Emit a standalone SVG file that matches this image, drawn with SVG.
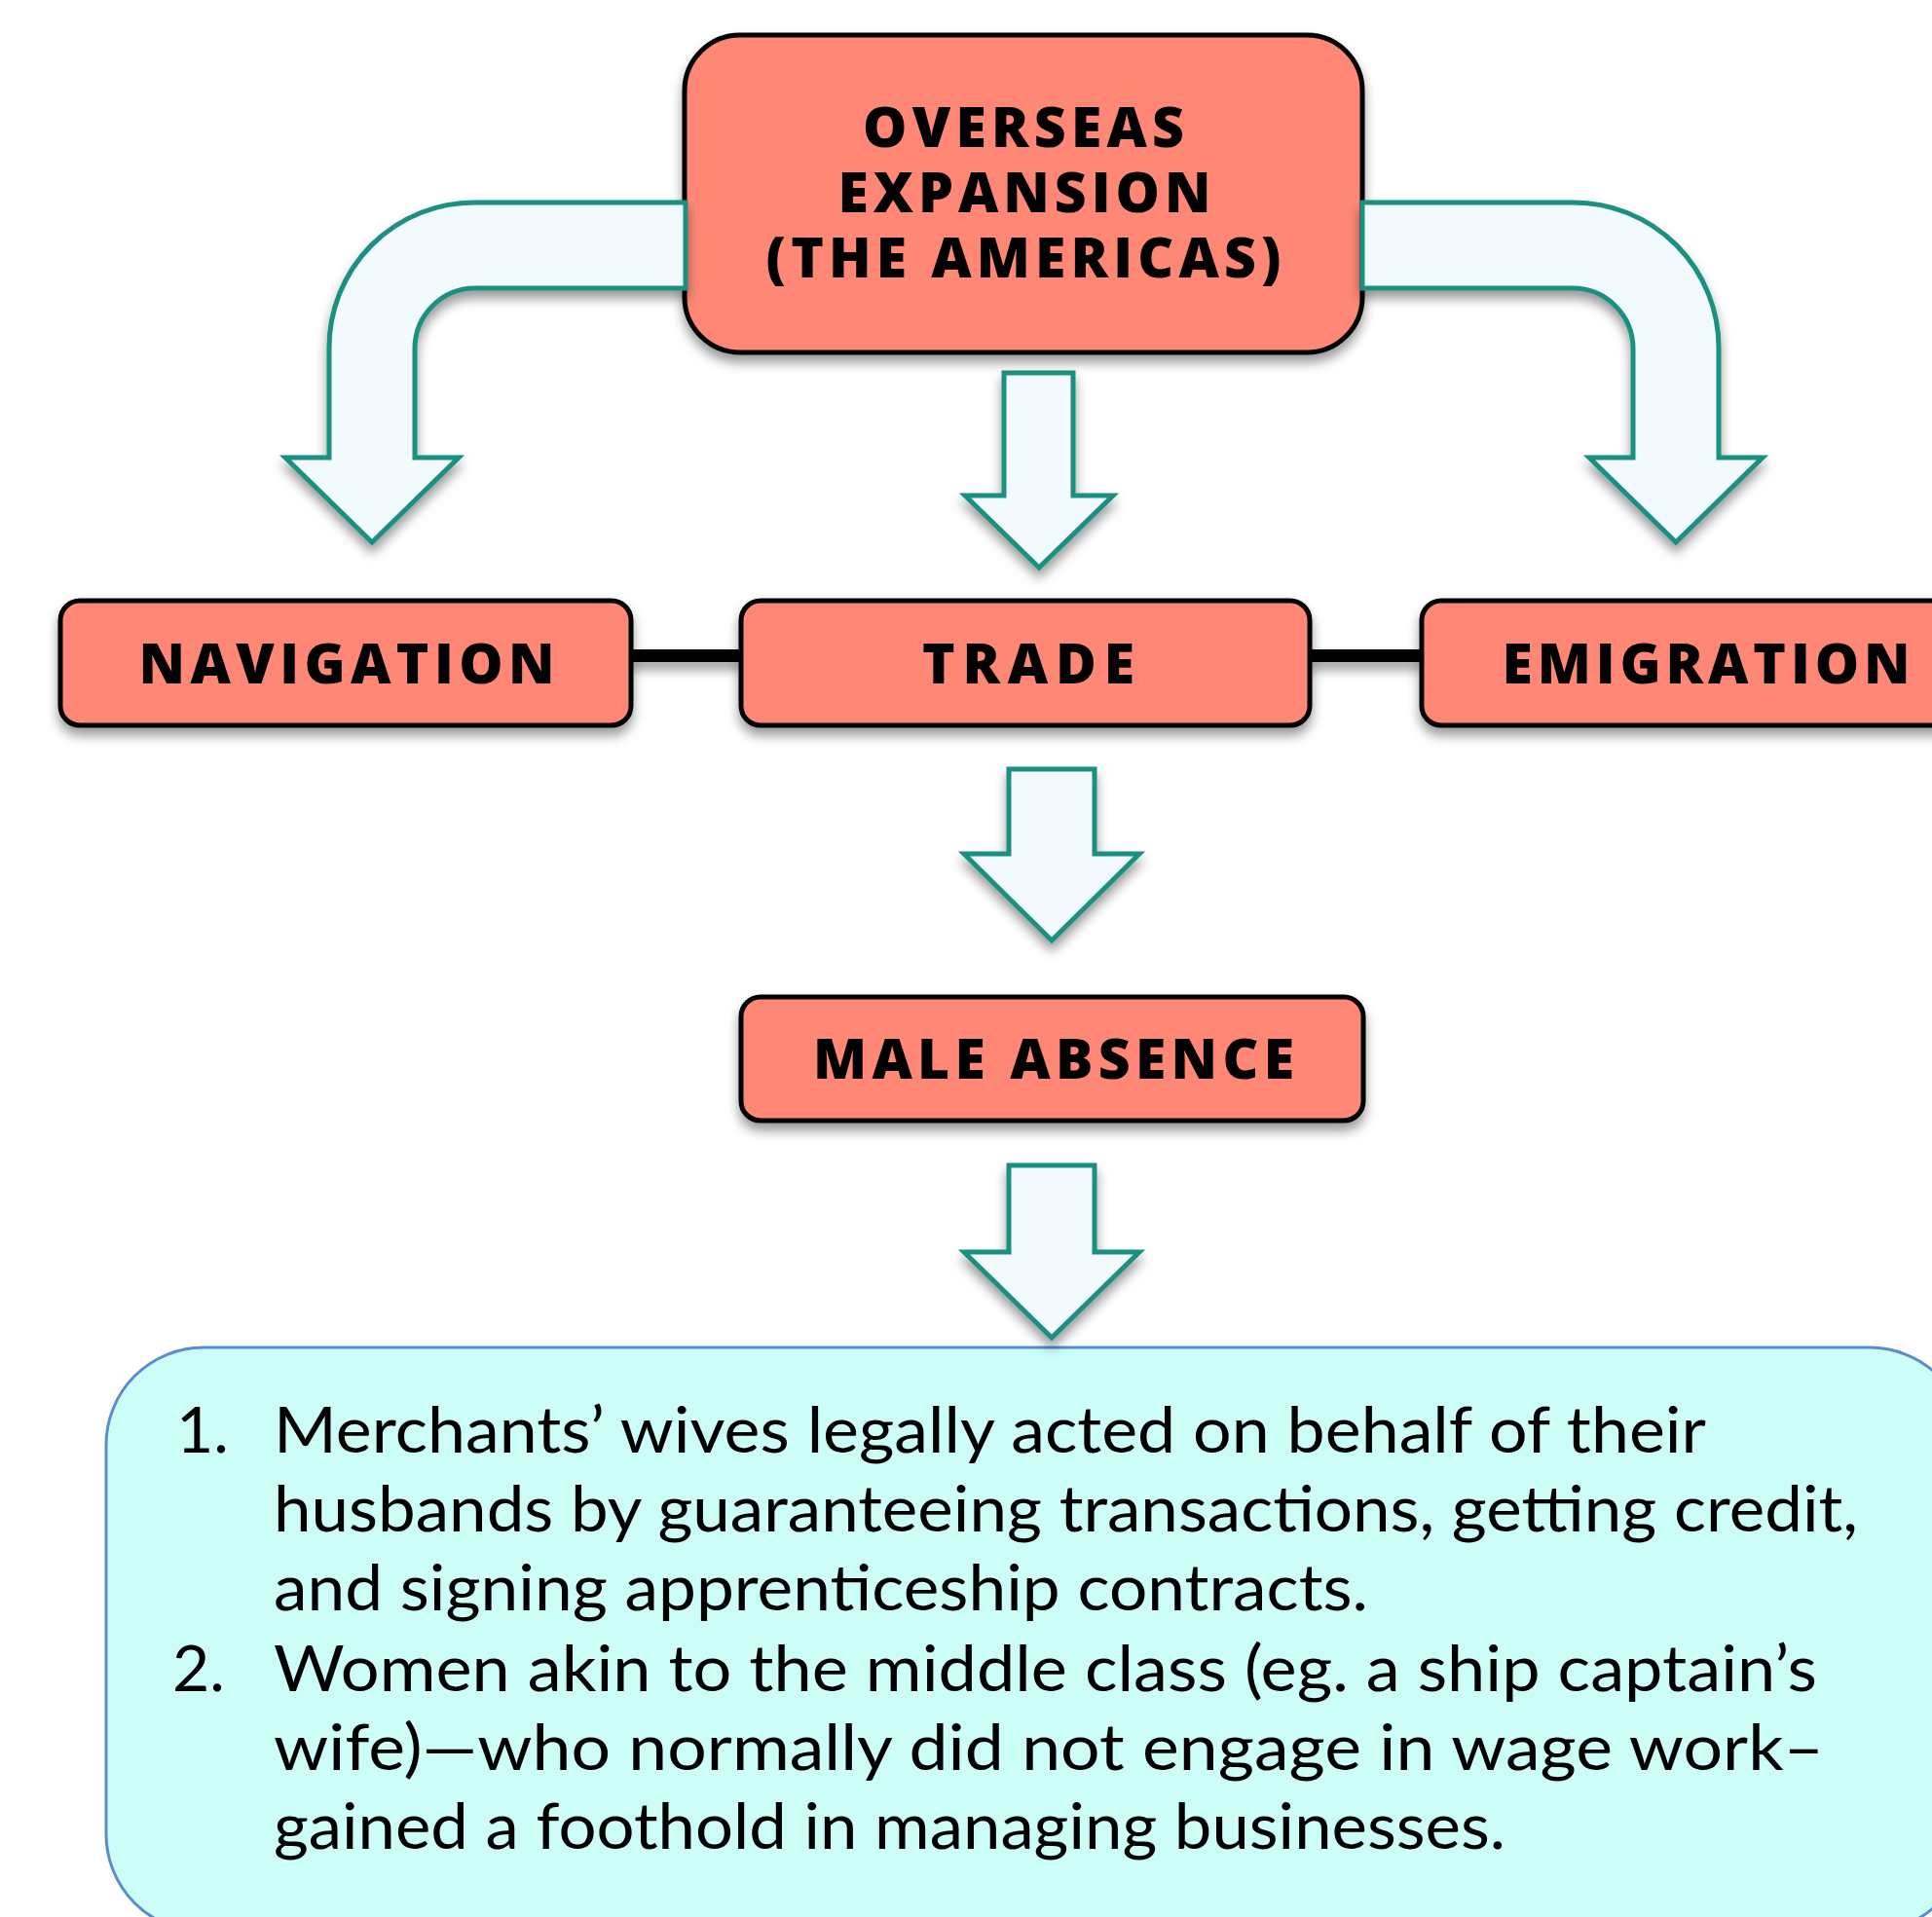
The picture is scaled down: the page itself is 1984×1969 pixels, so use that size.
<svg xmlns="http://www.w3.org/2000/svg" width="1984" height="1969" viewBox="0 0 1984 1969">
<defs>
<filter id="sh" x="-20%" y="-20%" width="140%" height="150%">
<feDropShadow dx="0" dy="8" stdDeviation="6" flood-color="#000" flood-opacity="0.4"/>
</filter>
<filter id="shl" filterUnits="userSpaceOnUse" x="0" y="600" width="1984" height="150">
<feDropShadow dx="0" dy="8" stdDeviation="6" flood-color="#000" flood-opacity="0.4"/>
</filter>
<style>
.box{fill:#fe8874;stroke:#000;stroke-width:5;filter:url(#sh)}
.arr{fill:#f2fafd;stroke:#1b9080;stroke-width:5;stroke-linejoin:miter;filter:url(#sh)}
.hd{font-family:"Open Sans",Lato,"Liberation Sans",sans-serif;font-weight:800;font-size:57px;fill:#000;text-anchor:middle}
.bt{font-family:Lato,"Open Sans","Liberation Sans",sans-serif;font-weight:400;font-size:66px;fill:#000}
.ln{fill:#000;filter:url(#shl)}
</style>
</defs>
<rect width="1984" height="1969" fill="#fff"/>

<g id="connectors">
<rect class="ln" x="646" y="667" width="117" height="13"/>
<rect class="ln" x="1343" y="667" width="119" height="13"/>
<path class="arr" d="M1031,383 H1102 V509 H1143 L1067,583 L991,509 H1031 Z"/>
<path class="arr" d="M1036,790 H1124 V877 H1170 L1080,966 L990,877 H1036 Z"/>
</g>

<g id="node-overseas">
<rect class="box" x="703" y="36" width="696" height="326" rx="57" ry="57"/>
<text class="hd" x="1051" y="151" textLength="330">OVERSEAS</text>
<text class="hd" x="1052" y="218" textLength="383">EXPANSION</text>
<text class="hd" x="1051" y="285" textLength="529">(THE AMERICAS)</text>
</g>

<g id="connectors-curved">
<path class="arr" d="M704,208 H487 A149,149 0 0 0 338,357 V470 H293 L382,557 L471,470 H426 V358 A62,62 0 0 1 488,296 H704 Z"/>
<path class="arr" d="M1399,208 H1616 A149,149 0 0 1 1765,357 V470 H1810 L1721,557 L1632,470 H1677 V358 A62,62 0 0 0 1615,296 H1399 Z"/>
</g>

<g id="node-navigation">
<rect class="box" x="62" y="617" width="586" height="128" rx="20" ry="20"/>
<text class="hd" x="356" y="702" textLength="427">NAVIGATION</text>
</g>

<g id="node-trade">
<rect class="box" x="761" y="617" width="584" height="128" rx="20" ry="20"/>
<text class="hd" x="1056" y="702" textLength="218">TRADE</text>
</g>

<g id="node-emigration">
<rect class="box" x="1460" y="617" width="600" height="128" rx="20" ry="20"/>
<text class="hd" x="1752" y="702" textLength="419">EMIGRATION</text>
</g>

<g id="node-male-absence">
<rect class="box" x="761" y="1024" width="639" height="127" rx="20" ry="20"/>
<text class="hd" x="1082" y="1108" textLength="494">MALE ABSENCE</text>
</g>

<g id="node-outcomes">
<rect x="109" y="1384" width="1911" height="600" rx="100" ry="100" fill="#ccfdf7" stroke="#5b8ccf" stroke-width="3"/>
<text class="bt" x="181" y="1492">1.</text>
<text class="bt" x="281" y="1492" textLength="1471" lengthAdjust="spacingAndGlyphs">Merchants’ wives legally acted on behalf of their</text>
<text class="bt" x="281" y="1573" textLength="1627" lengthAdjust="spacingAndGlyphs">husbands by guaranteeing transactions, getting credit,</text>
<text class="bt" x="281" y="1654" textLength="1124" lengthAdjust="spacingAndGlyphs">and signing apprenticeship contracts.</text>
<text class="bt" x="177" y="1737">2.</text>
<text class="bt" x="281" y="1737" textLength="1585" lengthAdjust="spacingAndGlyphs">Women akin to the middle class (eg. a ship captain’s</text>
<text class="bt" x="281" y="1818" textLength="1592" lengthAdjust="spacingAndGlyphs">wife)—who normally did not engage in wage work–</text>
<text class="bt" x="281" y="1899" textLength="1265" lengthAdjust="spacingAndGlyphs">gained a foothold in managing businesses.</text>
</g>

<g id="connector-outcome">
<path class="arr" d="M1036,1197 H1124 V1286 H1170 L1080,1374 L990,1286 H1036 Z"/>
</g>
</svg>
